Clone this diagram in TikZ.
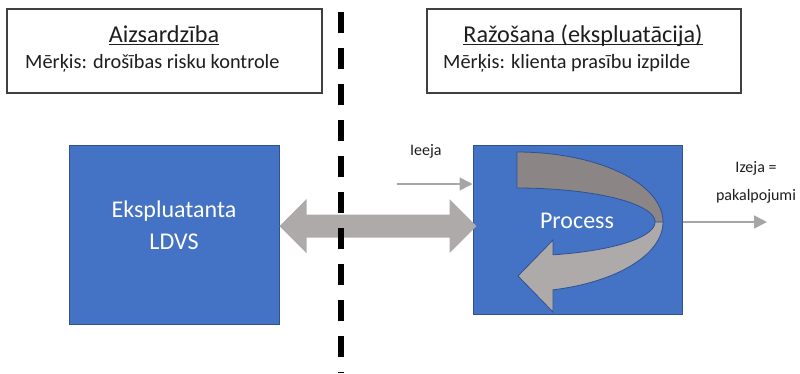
\documentclass[tikz,border=0pt]{standalone}
\usepackage{fontspec}
\setmainfont{Carlito}
\usetikzlibrary{arrows.meta,calc}
\definecolor{blu}{HTML}{4472C4}
\definecolor{bluedge}{HTML}{2F528F}
\definecolor{lgray}{HTML}{AEAAAA}
\definecolor{dgray}{HTML}{8B8685}
\definecolor{thingray}{HTML}{A6A6A6}
\definecolor{txt}{HTML}{1E1E1E}
\begin{document}
\begin{tikzpicture}[x=1pt,y=-1pt,
  topbox/.style={draw=black!75, line width=1.1pt, inner sep=0pt, fill=white},
  bluebox/.style={draw=bluedge, line width=1pt, fill=blu, inner sep=0pt},
  headtxt/.style={inner sep=0pt, anchor=base, text=txt, font=\fontsize{24.2}{28}\selectfont},
  subtxt/.style={inner sep=0pt, anchor=base west, text=txt, font=\fontsize{20.3}{24}\selectfont},
  whitetxt/.style={inner sep=0pt, anchor=base, text=white, font=\fontsize{24}{28}\selectfont},
  smalltxt/.style={inner sep=0pt, anchor=base, text=txt, font=\fontsize{16}{19}\selectfont},
  thinarrow/.style={draw=thingray, line width=1.6pt, -{Triangle[length=13pt,width=13pt]}},
  bandline/.style={draw=bluedge, line width=0.8pt}
]
\useasboundingbox (0,0) rectangle (800,373);
\fill[white] (0,0) rectangle (800,373);

% top boxes
\node[topbox, minimum width=315pt, minimum height=84pt] (lt) at (164.5,51) {};
\node[topbox, minimum width=314pt, minimum height=84pt] (rt) at (584,51) {};
\node[headtxt] (lth) at (164,42) {Aizsardzība};
\draw[txt, line width=1pt] ($(lth.base west)+(0,2.5)$) -- ($(lth.base east)+(0,2.5)$);
\node[subtxt] (lts) at (25,68) {Mērķis: drošības risku kontrole};
\node[headtxt] (rth) at (583,42) {Ražošana (ekspluatācija)};
\draw[txt, line width=1pt] ($(rth.base west)+(0,2.5)$) -- ($(rth.base east)+(0,2.5)$);
\node[subtxt] (rts) at (443,68) {Mērķis: klienta prasību izpilde};

% blue boxes
\node[bluebox, minimum width=210pt, minimum height=179pt] (ldvs) at (174,234.5) {};
\node[whitetxt] (ldvs1) at (174,217) {Ekspluatanta};
\node[whitetxt] (ldvs2) at (174,249) {LDVS};
\node[bluebox, minimum width=209pt, minimum height=169pt] (proc) at (577.5,229.5) {};

% double block arrow
\coordinate (da) at (ldvs.east |- 0,226);
\coordinate (db) at ($(proc.west |- 0,226)+(4,0)$);
\fill[lgray] (da) -- ($(da)+(27,-27)$) -- ($(da)+(27,-11.5)$) -- ($(db)+(-27,-11.5)$)
  -- ($(db)+(-27,-27)$) -- (db) -- ($(db)+(-27,27)$) -- ($(db)+(-27,11.5)$)
  -- ($(da)+(27,11.5)$) -- ($(da)+(27,27)$) -- cycle;

% circular arrow inside Process
\fill[lgray] plot[domain=0:75.7,samples=40] ({517+146*cos(\x)},{222+70*sin(\x)})
  -- (553,312) -- (518,276) -- (553,240)
  -- plot[domain=74.9:0,samples=40] ({517+138*cos(\x)},{222+34*sin(\x)}) -- cycle;
\draw[bandline] plot[domain=0:75.7,samples=40] ({517+146*cos(\x)},{222+70*sin(\x)})
  -- (553,312) -- (518,276) -- (553,240)
  -- plot[domain=74.9:0,samples=40] ({517+138*cos(\x)},{222+34*sin(\x)});
\fill[dgray] plot[domain=-90:0,samples=50] ({517+146*cos(\x)},{222+70*sin(\x)})
  -- plot[domain=0:-90,samples=50] ({517+138*cos(\x)},{222+34*sin(\x)}) -- cycle;
\draw[bandline] plot[domain=-90:0,samples=50] ({517+146*cos(\x)},{222+70*sin(\x)})
  -- plot[domain=0:-90,samples=50] ({517+138*cos(\x)},{222+34*sin(\x)}) -- cycle;
\node[whitetxt] (proct) at (577,228) {Process};

% thin input / output arrows
\coordinate (inS) at (397,184);
\draw[thinarrow] (inS) -- (inS -| proc.west);
\node[smalltxt, anchor=base west] (inl) at (410,155) {Ieeja};
\coordinate (outE) at (767,222);
\draw[thinarrow] (outE -| proc.east) -- (outE);
\node[smalltxt] (outl1) at (756,172) {Izeja =};
\node[smalltxt] (outl2) at (756,200) {pakalpojumi};

% dashed divider
\draw[black, line width=5.5pt, dash pattern=on 21pt off 15pt] (341,12) -- (341,373);
\end{tikzpicture}
\end{document}
